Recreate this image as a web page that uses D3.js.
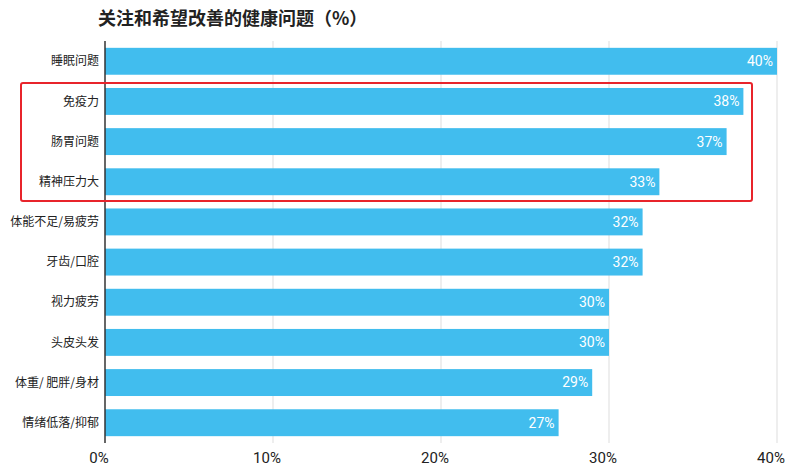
<!DOCTYPE html>
<html><head><meta charset="utf-8">
<script src="https://cdn.jsdelivr.net/npm/d3@7"></script>
<style>body{margin:0;background:#fff;font-family:"Noto Sans CJK SC",sans-serif;}</style>
</head><body><svg id="c" width="800" height="472"></svg>
<script>
const categories = ['睡眠问题','免疫力','肠胃问题','精神压力大','体能不足/易疲劳','牙齿/口腔','视力疲劳','头皮头发','体重/  肥胖/身材','情绪低落/抑郁'];
const values = [40, 38, 37, 33, 32, 32, 30, 30, 29, 27];
const ticks = [0, 10, 20, 30, 40];

const svg = d3.select('#c');
const x = d3.scaleLinear().domain([0, 40]).range([105, 777]);
const y = d3.scaleBand().domain(categories).range([41, 443]).paddingInner(0.33).paddingOuter(0.17);

svg.append('text').attr('x', 98).attr('y', 25)
    .style('font-size', '18px').style('font-weight', 'bold').style('fill', '#222')
    .text('关注和希望改善的健康问题（%）');

svg.selectAll('line.grid').data(ticks.slice(1)).enter().append('line')
    .attr('x1', x).attr('x2', x).attr('y1', 41).attr('y2', 443)
    .style('stroke', '#ddd').style('stroke-width', 1);

svg.selectAll('rect.bar').data(values).enter().append('rect')
    .attr('x', x(0)).attr('y', (d, i) => y(categories[i]))
    .attr('width', d => x(d) - x(0)).attr('height', y.bandwidth())
    .style('fill', '#41bdee');

svg.selectAll('text.val').data(values).enter().append('text')
    .attr('x', d => x(d) - 4).attr('y', (d, i) => y(categories[i]) + y.bandwidth() / 2)
    .attr('dy', '0.35em').attr('text-anchor', 'end')
    .style('fill', '#fff').style('font-size', '14px').style('font-family', 'Roboto, sans-serif')
    .text(d => d + '%');

svg.selectAll('text.cat').data(categories).enter().append('text')
    .attr('x', 99).attr('y', d => y(d) + y.bandwidth() / 2)
    .attr('dy', '0.35em').attr('text-anchor', 'end')
    .style('fill', '#222').style('font-size', '12px')
    .text(d => d);

svg.append('line').attr('x1', x(0)).attr('x2', x(0)).attr('y1', 41).attr('y2', 443)
    .style('stroke', '#333').style('stroke-width', 1.5);

svg.selectAll('text.tick').data(ticks).enter().append('text')
    .attr('x', d => x(d) - 6).attr('y', 463).attr('text-anchor', 'middle')
    .style('fill', '#222').style('font-size', '15px').style('font-family', 'Roboto, sans-serif')
    .text(d => d + '%');

svg.append('rect').attr('x', 21).attr('y', 83).attr('width', 731).attr('height', 118)
    .attr('rx', 2).style('fill', 'none').style('stroke', '#e8242b').style('stroke-width', 2);
</script></body></html>
